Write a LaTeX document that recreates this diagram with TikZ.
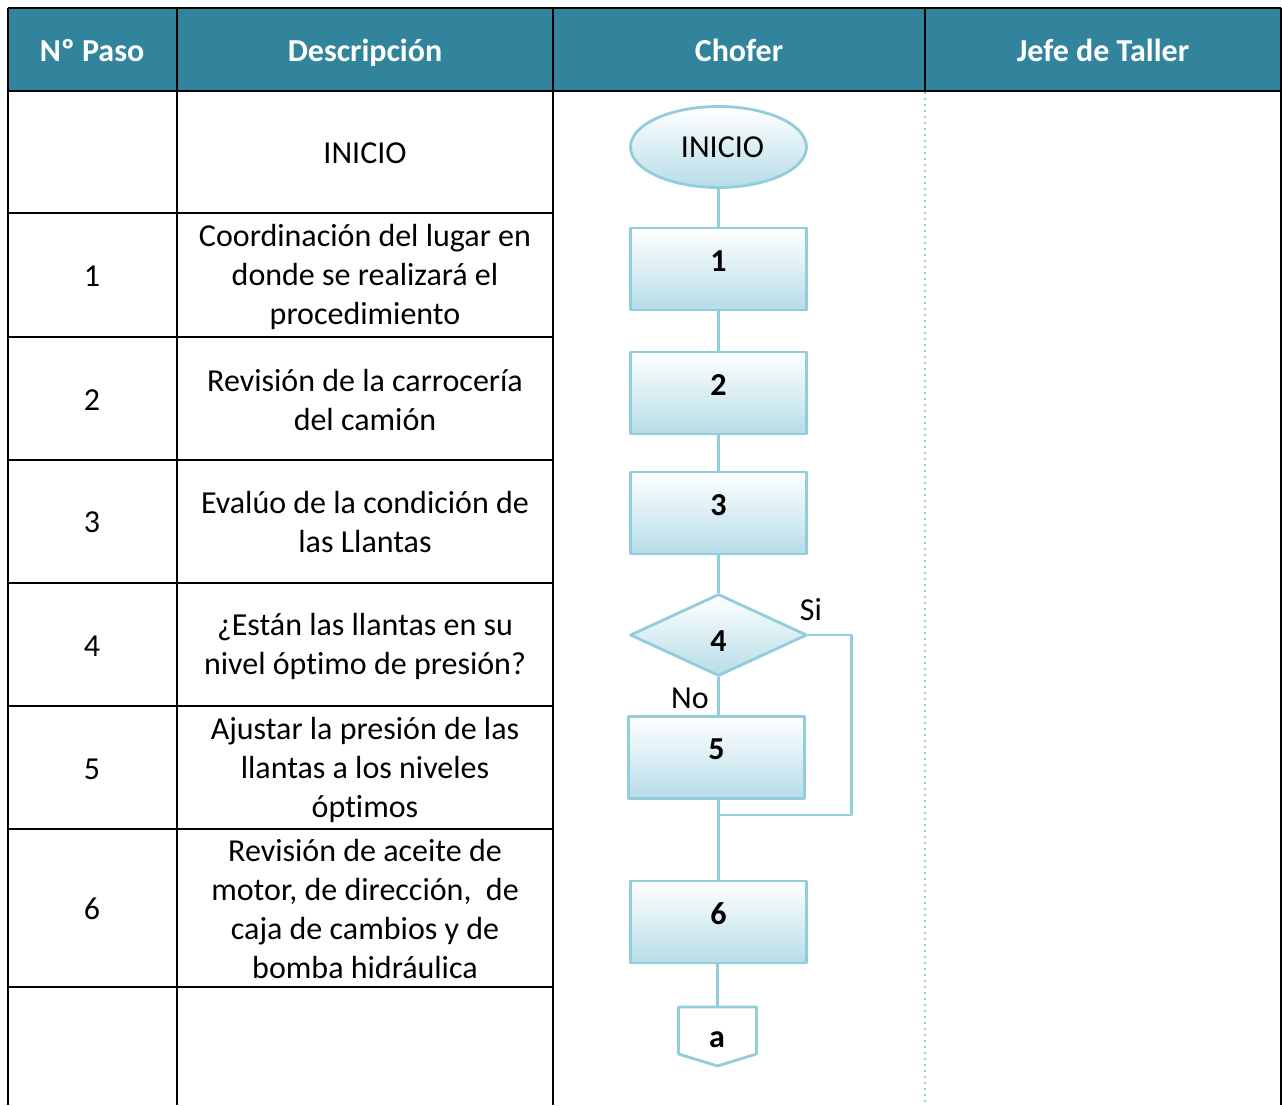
\documentclass[tikz,border=0pt]{standalone}
\usepackage{fontspec}
\setmainfont{Carlito}[Ligatures=CommonOff]
\usetikzlibrary{shapes.geometric}
\definecolor{cabecera}{HTML}{31849B}
\definecolor{borde}{HTML}{92CDDC}
\definecolor{relleno}{HTML}{B6DDE8}

\begin{document}
\begin{tikzpicture}[x=0.5pt,y=-0.5pt,line join=round,
    font=\fontsize{16}{19.5}\selectfont,
    tabla/.style={line width=1.2pt,color=black},
    titulo/.style={text=white,font=\fontsize{16}{19.5}\selectfont\bfseries,text height=11.5pt,text depth=3.5pt},
    celda/.style={align=center},
    paso/.style={draw=borde,line width=1.4pt,top color=white,bottom color=relleno,
      minimum width=88pt,minimum height=41pt,inner sep=0pt,
      font=\fontsize{16}{19.5}\selectfont\bfseries,text height=11pt,text depth=9pt},
    conector/.style={draw=borde,line width=1.4pt}]
					\useasboundingbox (0,0) rectangle (1282,1105);
					%% cabecera
					\fill [cabecera] (8,8) rectangle (1281,91);
					\draw [tabla] (8,8) -- (1281,8);
					\draw [tabla] (8,91) -- (1281,91);
					\draw [tabla] (8,8) -- (8,1105);
					\draw [tabla] (177,8) -- (177,1105);
					\draw [tabla] (553,8) -- (553,1105);
					\draw [tabla] (925,8) -- (925,91);
					\draw [tabla] (1281,8) -- (1281,1105);
					\draw [line width=1pt,color=borde,dotted] (925,92) -- (925,1105);
					\foreach \y in {213,337,460,583,706,829,987}
						\draw [tabla] (8,\y) -- (553,\y);
					\node [titulo] (tPaso) at (92,53) {Nº Paso};
					\node [titulo] (tDesc) at (365,53) {Descripción};
					\node [titulo] (tChofer) at (739,53) {Chofer};
					\node [titulo] (tJefe) at (1103,53) {Jefe de Taller};
					%% columna de pasos
					\node (n1) at (92,276) {1};
					\node (n2) at (92,400) {2};
					\node (n3) at (92,522) {3};
					\node (n4) at (92,646) {4};
					\node (n5) at (92,769) {5};
					\node (n6) at (92,909) {6};
					%% descripciones
					\node [celda] (dInicio) at (365,153) {INICIO};
					\node [celda] (d1) at (365,277) {Coordinación del lugar en\\donde se realizará el\\procedimiento};
					\node [celda] (d2) at (365,400) {Revisión de la carrocería\\del camión};
					\node [celda] (d3) at (365,522) {Evalúo de la condición de\\las Llantas};
					\node [celda] (d4) at (365,646) {¿Están las llantas en su\\nivel óptimo de presión?};
					\node [celda] (d5) at (365,770) {Ajustar la presión de las\\llantas a los niveles\\óptimos};
					\node [celda] (d6) at (365,909) {Revisión de aceite de\\motor, de dirección,~~de\\caja de cambios y de\\bomba hidráulica};
					%% diagrama del chofer
					\node [paso,ellipse,font=\fontsize{16}{19.5}\selectfont,text height=,text depth=,minimum height=40.5pt] (inicio) at (718.5,147) {\hspace*{4pt}INICIO};
					\node [paso] (p1) at (718.5,269) {1};
					\node [paso] (p2) at (718.5,393) {2};
					\node [paso] (p3) at (718.5,513) {3};
					\node [paso,diamond,text height=16pt,text depth=0pt,minimum width=88.5pt] (p4) at (718.5,635) {4};
					\node [paso] (p5) at (716.5,757.5) {5};
					\node [paso] (p6) at (718.5,922) {6};
					\coordinate (union) at (718.5,815);
					\coordinate (conA) at (717.5,1007);
					\draw [conector] (inicio) -- (p1);
					\draw [conector] (p1) -- (p2);
					\draw [conector] (p2) -- (p3);
					\draw [conector] (p3) -- (p4);
					\draw [conector] (p4.south) -- (p4.south |- p5.north);
					\draw [conector] (p4.east) -- ++(43,0) |- (union);
					\draw [conector] (union |- p5.south) -- (p6.north -| union);
					\draw [conector] (p6.south -| conA) -- (conA);
					\draw [conector,fill=white] (678.5,1007) -- (756.5,1007) -- (756.5,1054) -- (717.5,1066) -- (678.5,1054) -- cycle;
					\node [font=\fontsize{16}{19.5}\selectfont\bfseries] (a) at (717,1040) {a};
					\node (si) at (811,610) {Si};
					\node (no) at (690,698) {No};
				\end{tikzpicture}
\end{document}
